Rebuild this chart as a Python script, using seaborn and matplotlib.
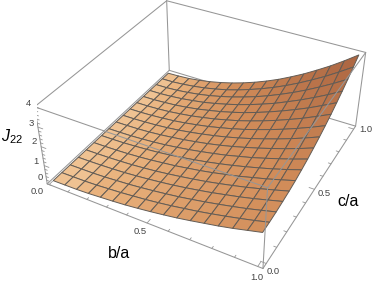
import numpy as np, matplotlib
matplotlib.use('Agg')
import matplotlib.pyplot as plt
import seaborn as sns

b_values = [i/16 for i in range(17)]
c_values = [j/16 for j in range(17)]
j22_values = [
[0]*17,
[.01,.01,.01,.01,.01,.01,.01,.01,.01,.01,.01,.01,.01,.01,.01,.01,.02],
[.02,.02,.02,.03,.03,.03,.03,.03,.03,.04,.04,.04,.05,.05,.05,.06,.06],
[.05,.05,.05,.06,.06,.06,.07,.07,.07,.08,.09,.09,.10,.11,.12,.13,.14],
[.10,.10,.10,.10,.10,.11,.12,.12,.13,.14,.15,.17,.18,.20,.21,.23,.25],
[.15,.15,.15,.16,.16,.17,.18,.19,.21,.22,.24,.26,.28,.30,.33,.36,.39],
[.21,.22,.22,.23,.23,.25,.26,.28,.30,.32,.35,.38,.41,.44,.48,.51,.56],
[.29,.29,.30,.31,.32,.33,.36,.38,.41,.44,.47,.51,.55,.60,.65,.70,.76],
[.38,.38,.39,.40,.42,.44,.47,.50,.53,.57,.62,.67,.72,.78,.85,.92,.99],
[.48,.48,.49,.51,.53,.55,.59,.63,.67,.72,.78,.84,.91,.99,1.07,1.16,1.25],
[.59,.60,.61,.63,.65,.68,.73,.77,.83,.89,.96,1.04,1.13,1.22,1.32,1.43,1.54],
[.72,.72,.74,.76,.79,.83,.88,.94,1.01,1.08,1.17,1.26,1.37,1.47,1.60,1.73,1.87],
[.86,.86,.88,.91,.94,.98,1.05,1.11,1.20,1.29,1.39,1.50,1.63,1.76,1.90,2.06,2.22],
[1.00,1.01,1.03,1.06,1.10,1.16,1.23,1.31,1.41,1.51,1.63,1.76,1.91,2.06,2.23,2.42,2.61],
[1.16,1.17,1.19,1.23,1.28,1.34,1.42,1.52,1.63,1.75,1.89,2.04,2.21,2.39,2.59,2.80,3.02],
[1.34,1.34,1.37,1.42,1.47,1.54,1.63,1.74,1.87,2.01,2.17,2.35,2.54,2.74,2.97,3.22,3.47],
[1.52,1.53,1.56,1.61,1.67,1.75,1.86,1.98,2.13,2.29,2.47,2.67,2.89,3.12,3.38,3.66,3.95],
]
axis_ticks = [i/10 for i in range(11)]
z_ticks = [i/5 for i in range(21)]
b_labels = [("0.0",37,192),("0.5",140,232),("1.0",257,277)]
c_labels = [("0.0",273,272),("0.5",324,193),("1.0",366,129)]
z_labels = [("0",40,178),("1",36,161),("2",34,142),("3",31,123),("4",28,103)]

sns.set_theme(style='white')
plt.rcParams['font.family'] = ['Liberation Sans', 'DejaVu Sans']
plt.rcParams['mathtext.fontset'] = 'custom'
plt.rcParams['mathtext.rm'] = 'Liberation Sans'
plt.rcParams['mathtext.it'] = 'Liberation Sans:italic'

W, H = 374, 285
s, cx, cy = 334.958, 204.036, 121.789
fig = plt.figure(figsize=(W/100, H/100), dpi=100)
ax = fig.add_axes([(cx-s/2)/W, (H-cy-s/2)/H, s/W, s/H], projection='3d')
ax.computed_zorder = False
b0, b1 = -0.01, 1.022
c0, c1 = -0.03, 1.027
ax.set_xlim(b0, b1, view_margin=0); ax.set_ylim(c0, c1, view_margin=0); ax.set_zlim(0, 4, view_margin=0)
ax.view_init(36.199, -61.426, 0.123)
ax.set_proj_type('persp', focal_length=0.43)
ax.set_box_aspect((1, 0.999, 0.397))
ax.set_axis_off()
ax.patch.set_alpha(0)

B, C = np.meshgrid(b_values, c_values, indexing='ij')
Z = np.array(j22_values)
cmap = sns.blend_palette(['#F4CFA3', '#E9B27D', '#D18C59', '#AE6843'], as_cmap=True)
slope = (Z[1:, :-1]-Z[:-1, :-1]+Z[1:, 1:]-Z[:-1, 1:])/2*16
face = cmap(np.sqrt(slope/slope.max()))
box = '#969696'
def seg(p, q, z):
    ax.plot([p[0], q[0]], [p[1], q[1]], [p[2], q[2]], color=box, lw=0.75, zorder=z)
for p, q in [((b0,c1,0),(b1,c1,0)), ((b0,c0,0),(b0,c1,0)), ((b0,c1,0),(b0,c1,4)), ((b0,c0,0),(b1,c0,0)),
             ((b1,c0,0),(b1,c1,0)), ((b0,c0,0),(b0,c0,4))]:
    seg(p, q, 1)
ax.plot_surface(B, C, Z, facecolors=face, rstride=1, cstride=1, shade=False,
                edgecolor='#635c55', linewidth=0.7, antialiased=True, zorder=2)
for p, q in [((b0,c0,4),(b1,c0,4)), ((b1,c0,4),(b1,c1,4)), ((b0,c0,4),(b0,c1,4)), ((b0,c1,4),(b1,c1,4)),
             ((b1,c0,0),(b1,c0,4)), ((b1,c1,0),(b1,c1,4))]:
    seg(p, q, 3)
for i, t in enumerate(axis_ticks):
    L = 0.025 if i % 5 == 0 else 0.013
    ax.plot([t, t], [c0, c0+L], [0, 0], color=box, lw=0.6, zorder=3)
    ax.plot([b1, b1-L], [t, t], [0, 0], color=box, lw=0.6, zorder=3)
for i, t in enumerate(z_ticks):
    L = 0.025 if i % 5 == 0 else 0.013
    ax.plot([b0, b0+L], [c0, c0], [t, t], color=box, lw=0.6, zorder=3)

def px(txt, x, y, **kw):
    fig.text(x/W, 1-y/H, txt, ha='center', va='center', **kw)
for txt, x, y in b_labels+c_labels+z_labels:
    px(txt, x, y, fontsize=6.8, color='#444444')
px('b/a', 119, 253, fontsize=11.5, color='black')
px('c/a', 348, 201, fontsize=11.5, color='black')
px(r'$\mathit{J}_{22}$', 12, 137, fontsize=11.5, color='black')
fig.savefig('out.png', dpi=100)
